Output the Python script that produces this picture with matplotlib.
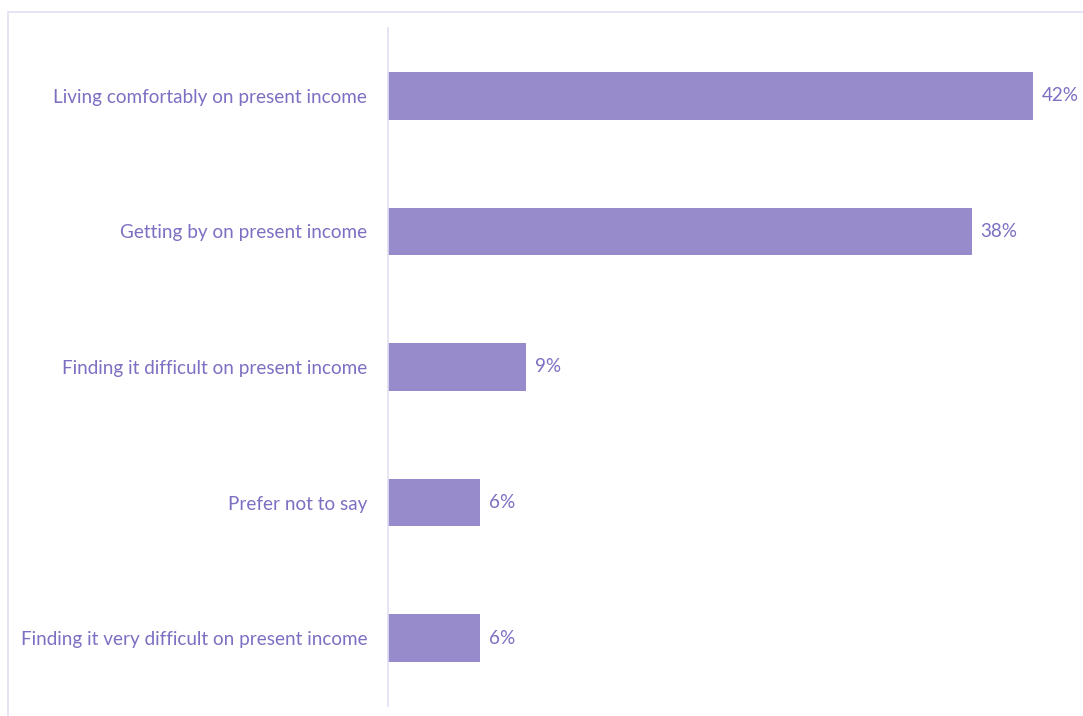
import matplotlib
matplotlib.use('Agg')
import matplotlib.pyplot as plt
from matplotlib.patches import Rectangle

categories = [
    'Living comfortably on present income',
    'Getting by on present income',
    'Finding it difficult on present income',
    'Prefer not to say',
    'Finding it very difficult on present income',
]
shares = [42, 38, 9, 6, 6]
value_labels = ['42%', '38%', '9%', '6%', '6%']

bar_color = '#978bcc'
text_color = '#7b70c2'
line_color = '#e2def2'

plt.rcParams['font.family'] = ['Lato', 'DejaVu Sans']

fig = plt.figure(figsize=(10.83, 7.16), dpi=100)
# outer frame, running off the right and bottom edges
fig.patches.append(Rectangle((8 / 1083, -0.1), 1.2, 1 - 12 / 716 + 0.1,
                             transform=fig.transFigure, fill=False,
                             edgecolor=line_color, linewidth=1.2))

ax = fig.add_axes([388 / 1083, 10 / 716, 691 / 1083, 678 / 716])
ypos = list(range(len(categories)))
ax.barh(ypos, shares, height=0.35, color=bar_color, edgecolor='none')
ax.set_ylim(len(categories) - 0.5, -0.5)
ax.set_xlim(0, 45)

for y, v, lab in zip(ypos, shares, value_labels):
    ax.text(v + 0.6, y, lab, va='center', ha='left', color=text_color, fontsize=13.6)

ax.set_yticks(ypos)
ax.set_yticklabels(categories, color=text_color, fontsize=13.6)
ax.tick_params(axis='y', length=0, pad=15)
ax.set_xticks([])
for side in ['top', 'right', 'bottom']:
    ax.spines[side].set_visible(False)
ax.spines['left'].set_color(line_color)
ax.spines['left'].set_linewidth(1.2)

fig.savefig('out.png', dpi=100)
